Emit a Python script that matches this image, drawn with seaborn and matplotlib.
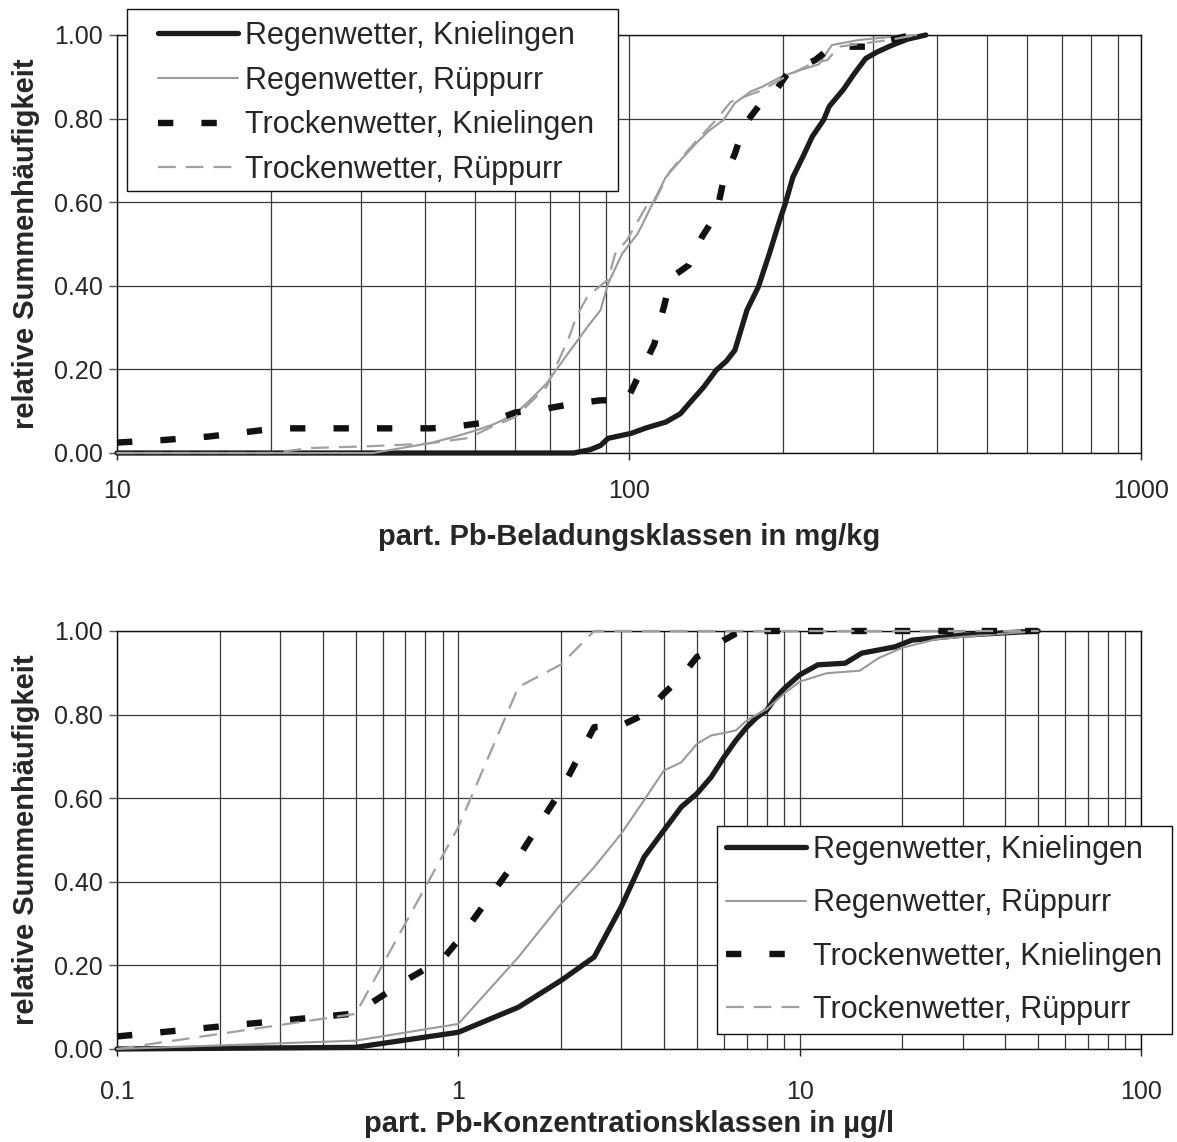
import matplotlib
matplotlib.use("Agg")
import matplotlib.pyplot as plt
from matplotlib.lines import Line2D
from matplotlib.patches import Rectangle
from matplotlib.ticker import FixedLocator, FixedFormatter, LogLocator, NullFormatter
import seaborn as sns
import pandas as pd

# ---- Beladung (mg/kg), oberes Diagramm ----
bel_rk_x = [10, 50, 78, 84, 88, 91, 95, 101, 108, 118, 126, 131, 140, 148, 155, 161, 170, 179,
            188, 197, 202, 209, 220, 228, 240, 246, 262, 276, 290, 306, 327, 350, 380]
bel_rk_y = [0, 0, 0, 0.008, 0.018, 0.035, 0.04, 0.047, 0.06, 0.074, 0.094, 0.118, 0.158, 0.198,
            0.22, 0.246, 0.342, 0.398, 0.477, 0.557, 0.597, 0.66, 0.716, 0.757, 0.797, 0.829,
            0.869, 0.909, 0.944, 0.96, 0.976, 0.99, 1.0]

bel_rr_x = [10, 31.6, 36, 41, 46, 50.5, 54, 57, 60, 64, 69, 72, 76, 83, 88, 91, 97, 104, 108,
            112, 118, 126, 135, 143, 153, 161, 173, 182, 198, 216, 235, 244, 249, 281, 327, 364]
bel_rr_y = [0, 0, 0.012, 0.024, 0.04, 0.055, 0.067, 0.08, 0.094, 0.126, 0.166, 0.198, 0.238,
            0.302, 0.342, 0.405, 0.477, 0.525, 0.565, 0.605, 0.66, 0.70, 0.74, 0.77, 0.797,
            0.837, 0.865, 0.876, 0.90, 0.916, 0.93, 0.96, 0.976, 0.988, 0.996, 1.0]

bel_tk_x = [10, 12.3, 15, 17.6, 20.5, 30, 41, 45, 51, 55, 60, 68, 78, 88, 99, 104, 108, 112,
            117, 121, 131, 139, 148, 153, 161, 168, 179, 191, 205, 231, 249, 306, 322, 357]
bel_tk_y = [0.025, 0.031, 0.039, 0.049, 0.059, 0.059, 0.059, 0.062, 0.071, 0.08, 0.097, 0.105,
            0.118, 0.126, 0.126, 0.18, 0.22, 0.26, 0.35, 0.42, 0.45, 0.518, 0.57, 0.653, 0.716,
            0.785, 0.829, 0.857, 0.912, 0.94, 0.972, 0.972, 0.988, 1.0]

bel_tr_x = [10, 20, 24, 30.8, 40, 48, 50, 54, 60, 69, 76, 79, 83, 91, 94, 99, 108, 112, 120,
            135, 148, 158, 182, 202, 228, 244, 257, 322, 364]
bel_tr_y = [0, 0, 0.012, 0.016, 0.022, 0.035, 0.043, 0.063, 0.086, 0.158, 0.27, 0.327, 0.375,
            0.415, 0.477, 0.509, 0.589, 0.60, 0.673, 0.745, 0.797, 0.84, 0.868, 0.90, 0.932,
            0.94, 0.972, 0.988, 1.0]

# ---- Konzentration (µg/l), unteres Diagramm ----
kon_rk_x = [0.1, 0.5, 1, 1.5, 2, 2.5, 3, 3.5, 4, 4.5, 5, 5.5, 6, 6.5, 7, 7.5, 8, 8.5, 9, 10,
            11.3, 13.6, 15.2, 19, 21.3, 30, 50]
kon_rk_y = [0, 0.004, 0.04, 0.10, 0.164, 0.22, 0.34, 0.459, 0.523, 0.579, 0.611, 0.65, 0.698,
            0.738, 0.77, 0.794, 0.81, 0.84, 0.862, 0.895, 0.919, 0.923, 0.947, 0.962, 0.978,
            0.99, 1.0]

kon_rr_x = [0.1, 0.5, 1, 1.5, 2, 2.5, 3, 3.5, 4, 4.5, 5, 5.5, 6, 6.5, 7, 7.5, 8, 9, 10, 12,
            15, 17, 20, 25, 30, 40, 50]
kon_rr_y = [0, 0.02, 0.06, 0.22, 0.347, 0.435, 0.515, 0.595, 0.666, 0.686, 0.73, 0.75, 0.756,
            0.762, 0.786, 0.80, 0.813, 0.85, 0.879, 0.899, 0.905, 0.935, 0.96, 0.98, 0.986,
            0.994, 1.0]

kon_tk_x = [0.1, 0.5, 0.7, 0.9, 1, 1.5, 2, 2.5, 3, 3.5, 4, 4.5, 5, 5.5, 6, 6.5, 7, 50]
kon_tk_y = [0.03, 0.085, 0.164, 0.215, 0.26, 0.459, 0.619, 0.77, 0.774, 0.80, 0.85, 0.89,
            0.938, 0.954, 0.978, 0.994, 1.0, 1.0]

kon_tr_x = [0.1, 0.5, 1, 1.5, 2, 2.5, 50]
kon_tr_y = [0, 0.084, 0.531, 0.866, 0.92, 1.0, 1.0]

series_names = ["Regenwetter, Knielingen", "Regenwetter, Rüppurr",
                "Trockenwetter, Knielingen", "Trockenwetter, Rüppurr"]

y_ticks = [0.0, 0.2, 0.4, 0.6, 0.8, 1.0]
y_ticklabels = ["0.00", "0.20", "0.40", "0.60", "0.80", "1.00"]
top_xticks = [10, 100, 1000]
top_xticklabels = ["10", "100", "1000"]
bot_xticks = [0.1, 1, 10, 100]
bot_xticklabels = ["0.1", "1", "10", "100"]

sns.set_style("ticks")
plt.rcParams["font.family"] = ["Liberation Sans", "DejaVu Sans"]

styles = [
    dict(color="#1c1c1c", linewidth=3.8, linestyle="-", solid_capstyle="round"),
    dict(color="#9a9a9a", linewidth=1.5, linestyle="-"),
    dict(color="#111111", linewidth=4.6, linestyle=(0, (2.4, 4.4)), dash_capstyle="butt"),
    dict(color="#a0a0a0", linewidth=1.6, linestyle=(0, (8, 4.5)), dash_capstyle="butt"),
]

W, H = 1177, 1142
fig = plt.figure(figsize=(W / 100, H / 100), dpi=100)
ax1 = fig.add_axes([117 / W, 1 - 453 / H, 1024 / W, 418 / H])
ax2 = fig.add_axes([117 / W, 1 - 1049 / H, 1024 / W, 418 / H])


def draw(ax, xs_list, ys_list):
    for name, xs, ys, st in zip(series_names, xs_list, ys_list, styles):
        df = pd.DataFrame({"x": xs, "y": ys})
        sns.lineplot(data=df, x="x", y="y", ax=ax, estimator=None, sort=False,
                     clip_on=False, zorder=3, **st)


def style_axis(ax, xlim, xticks, xticklabels, xlabel, xpad, labelpad):
    ax.set_xscale("log")
    ax.set_xlim(*xlim)
    ax.set_ylim(0, 1)
    ax.xaxis.set_major_locator(FixedLocator(xticks))
    ax.xaxis.set_major_formatter(FixedFormatter(xticklabels))
    ax.xaxis.set_minor_locator(LogLocator(base=10, subs=range(2, 10)))
    ax.xaxis.set_minor_formatter(NullFormatter())
    ax.yaxis.set_major_locator(FixedLocator(y_ticks))
    ax.yaxis.set_major_formatter(FixedFormatter(y_ticklabels))
    ax.grid(True, which="both", axis="x", color="#3a3a3a", linewidth=0.9, zorder=1)
    ax.grid(True, which="major", axis="y", color="#3a3a3a", linewidth=0.9, zorder=1)
    ax.set_axisbelow(True)
    ax.tick_params(axis="x", which="major", direction="out", length=5, width=1,
                   labelsize=18, pad=xpad, color="#222222")
    ax.tick_params(axis="x", which="minor", length=0)
    ax.tick_params(axis="y", which="major", direction="out", length=6, width=1,
                   labelsize=18, pad=4, color="#555555")
    for sp in ax.spines.values():
        sp.set_color("#111111")
        sp.set_linewidth(1.0)
        sp.set_visible(True)
    ax.set_xlabel(xlabel, fontsize=21, fontweight="bold", labelpad=labelpad)
    ax.set_ylabel("relative Summenhäufigkeit", fontsize=21, fontweight="bold", labelpad=10)


draw(ax1, [bel_rk_x, bel_rr_x, bel_tk_x, bel_tr_x], [bel_rk_y, bel_rr_y, bel_tk_y, bel_tr_y])
draw(ax2, [kon_rk_x, kon_rr_x, kon_tk_x, kon_tr_x], [kon_rk_y, kon_rr_y, kon_tk_y, kon_tr_y])

style_axis(ax1, (10, 1000), top_xticks, top_xticklabels,
           "part. Pb-Beladungsklassen in mg/kg", 14, 14)
style_axis(ax2, (0.1, 100), bot_xticks, bot_xticklabels,
           "part. Pb-Konzentrationsklassen in µg/l", 17, 5)

handles = [Line2D([], [], **st) for st in styles]

# upper legend: white box drawn separately, entries placed inside it
box = Rectangle((127 / W, 1 - 191 / H), (618 - 127) / W, (191 - 9) / H,
                transform=fig.transFigure, facecolor="white", edgecolor="#111111",
                linewidth=1.0, zorder=8)
fig.add_artist(box)
leg_top = fig.legend(handles, series_names, loc="upper left",
                     bbox_to_anchor=(158 / W, 1 - 21 / H),
                     bbox_transform=fig.transFigure, borderaxespad=0, borderpad=0,
                     fontsize=22, frameon=False, handlelength=2.62,
                     handletextpad=0.23, labelspacing=0.48)
leg_top.set_zorder(10)

leg_bot = fig.legend(handles, series_names, loc="upper left",
                     bbox_to_anchor=(717 / W, 1 - 826 / H),
                     bbox_transform=fig.transFigure, borderaxespad=0,
                     fontsize=22, frameon=True, fancybox=False, shadow=False,
                     framealpha=1, edgecolor="#111111", handlelength=2.6,
                     handletextpad=0.25, labelspacing=0.76, borderpad=0.3)
leg_bot.get_frame().set_linewidth(1.0)
leg_bot.set_zorder(10)

fig.savefig("out.png", dpi=100, facecolor="white")
